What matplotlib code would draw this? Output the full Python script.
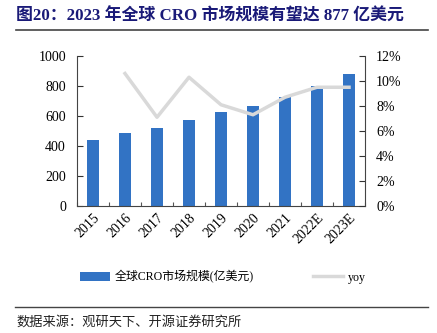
import matplotlib.pyplot as plt
import numpy as np
from matplotlib.ticker import FuncFormatter

years = ['2015', '2016', '2017', '2018', '2019', '2020', '2021', '2022E', '2023E']
market = [443, 487, 520, 575, 626, 669, 727, 800, 877]
yoy = [None, 10.6, 7.1, 10.3, 8.1, 7.3, 8.7, 9.5, 9.5]

fam = ['Liberation Serif', 'Noto Sans CJK SC']
plt.rcParams['font.family'] = fam

fig = plt.figure(figsize=(4.37, 3.33), dpi=100)
ax = fig.add_axes([77/437, 1-206/333, (365-77)/437, 150/333])
x = np.arange(len(years))
bars = ax.bar(x, market, width=0.4, color='#3273c4', label='全球CRO市场规模(亿美元)', zorder=2)
ax.set_xlim(-0.5, len(years)-0.5)
ax.set_ylim(0, 1000)
ax.set_yticks(range(0, 1001, 200))
ax.set_xticks(np.arange(len(years)+1)-0.5, minor=False)
ax.set_xticklabels([])
ax.set_xticks(x, minor=True)
ax.set_xticklabels(years, minor=True, rotation=45, ha='right', va='top', rotation_mode='anchor', fontsize=10)
ax.tick_params(axis='x', which='minor', length=0, pad=4)
ax.tick_params(axis='x', which='major', direction='in', length=3, color='#555555')
ax.tick_params(axis='y', direction='in', length=4, labelsize=10, pad=8, color='#333333')
for s in ['top', 'right']:
    ax.spines[s].set_visible(False)
ax.spines['left'].set_color('#444444')
ax.spines['bottom'].set_color('#444444')

ax2 = ax.twinx()
yx = [i for i, v in enumerate(yoy) if v is not None]
yv = [v for v in yoy if v is not None]
line, = ax2.plot(yx, yv, color='#d9d9d9', lw=2.5, label='yoy', zorder=3)
ax2.set_ylim(0, 12)
ax2.set_yticks(range(0, 13, 2))
ax2.yaxis.set_major_formatter(FuncFormatter(lambda v, p: f'{int(v)}%'))
ax2.tick_params(axis='y', direction='in', length=4, labelsize=10, pad=8, color='#333333')
for s in ['top', 'left', 'bottom']:
    ax2.spines[s].set_visible(False)
ax2.spines['right'].set_color('#444444')

fig.legend([bars, line], ['全球CRO市场规模(亿美元)', 'yoy'], loc='center', bbox_to_anchor=(223/437, 1-277/333),
           ncol=2, frameon=False, fontsize=8.6, handlelength=2.5, columnspacing=5, handletextpad=0.4)

fig.text(16/437, 1-17/333, '图20：2023 年全球 CRO 市场规模有望达 877 亿美元', fontsize=12.2,
         fontweight='bold', color='#1a1a78', va='center', ha='left')
fig.add_artist(plt.Line2D([16/437, 428/437], [1-30/333, 1-30/333], color='#444444', lw=1.2))
fig.add_artist(plt.Line2D([15/437, 428/437], [1-307/333, 1-307/333], color='#444444', lw=1.0))
fig.text(16/437, 1-322/333, '数据来源：观研天下、开源证券研究所', fontsize=9.5, color='#222222', va='center', ha='left')

fig.savefig('out.png', dpi=100)
